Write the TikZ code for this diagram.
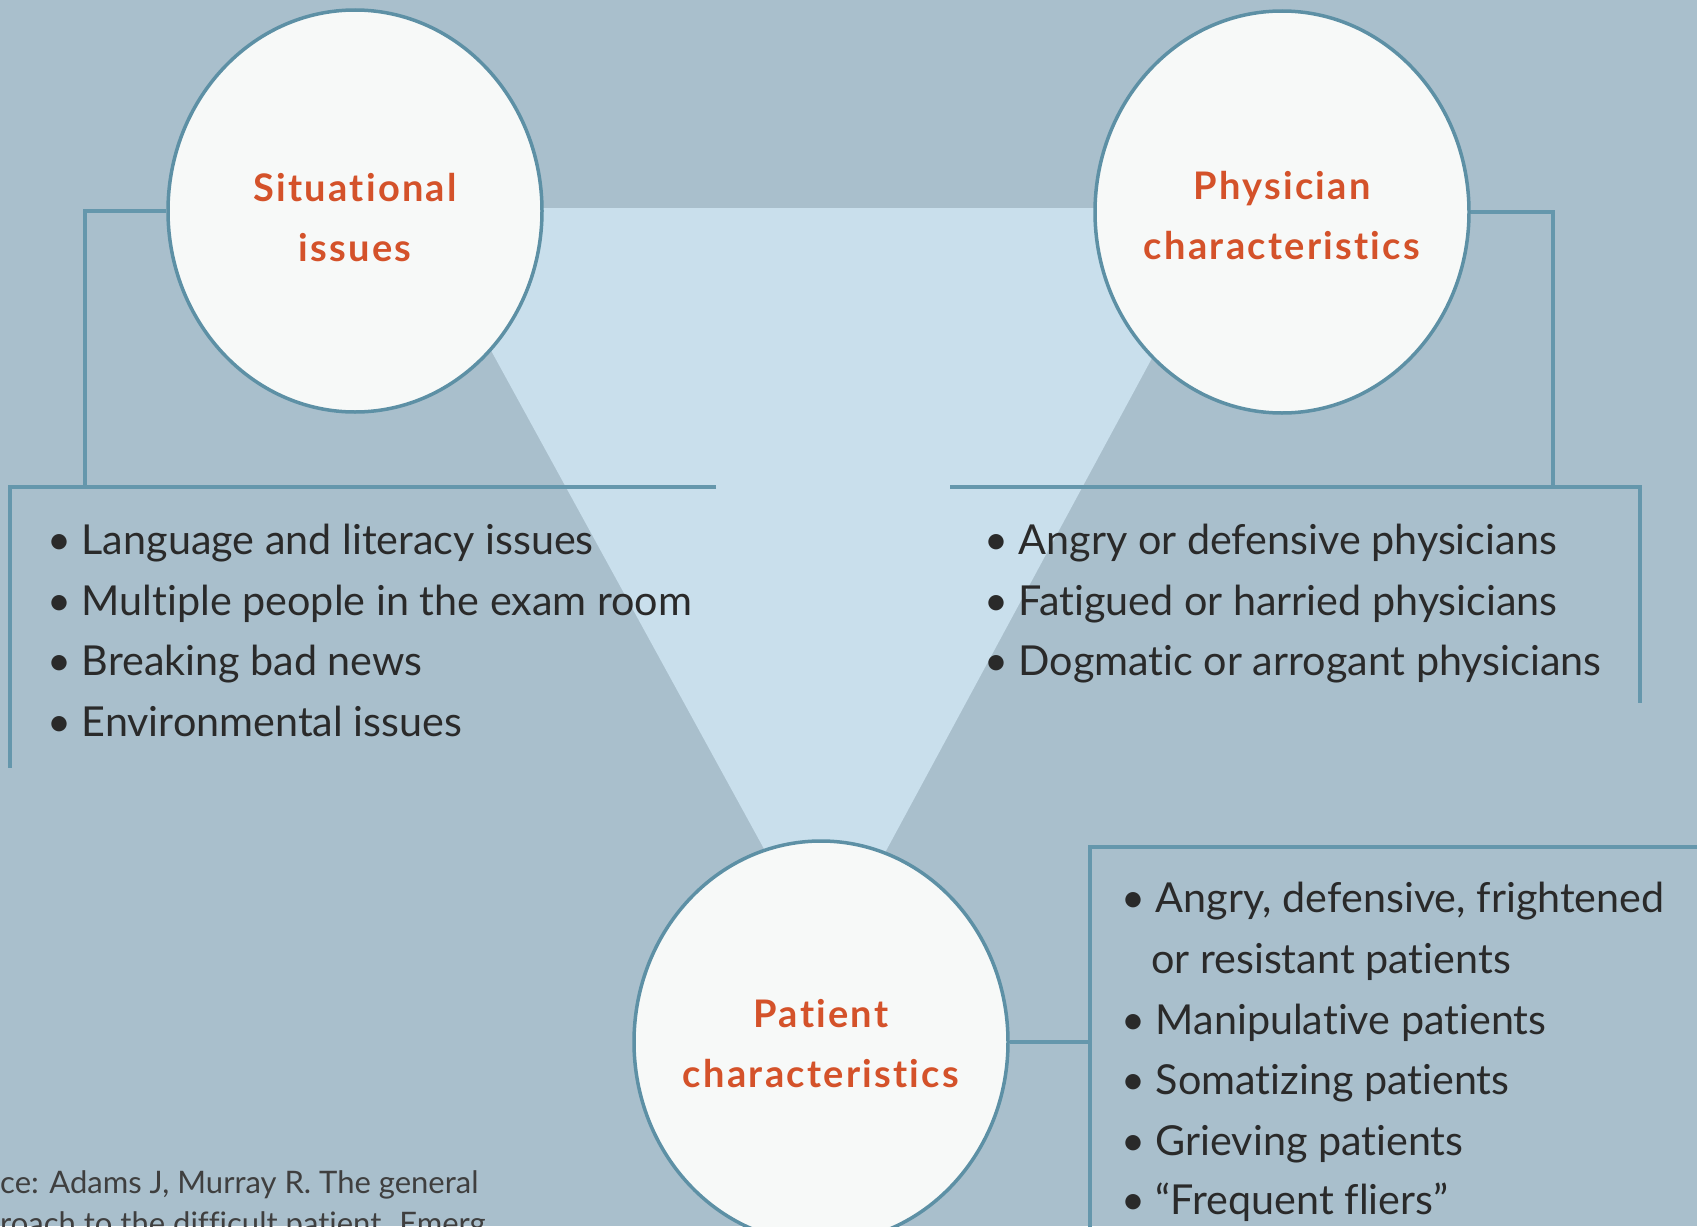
\documentclass[tikz,border=0pt]{standalone}
\usepackage{fontspec}
\setmainfont{Lato}[Ligatures=NoCommon]
\newfontfamily\titlefont{Lato}[LetterSpace=6, Ligatures=NoCommon]
\usetikzlibrary{shapes.geometric}
\definecolor{bg}{HTML}{A9BFCC}
\definecolor{tri}{HTML}{C9DFEC}
\definecolor{circfill}{HTML}{F7F9F8}
\definecolor{brkcol}{HTML}{6597AC}
\definecolor{circline}{HTML}{5D90A5}
\definecolor{titlecol}{HTML}{D4522A}
\definecolor{txt}{HTML}{2A2A2A}
\tikzset{
  circ/.style={ellipse, draw=circline, line width=3.5, fill=circfill,
    minimum width=374, minimum height=402, inner sep=0},
  ttl/.style={text=titlecol, align=center, font=\titlefont\bfseries\fontsize{38}{60}\selectfont},
  brk/.style={draw=brkcol, line width=3.5},
  item/.style={anchor=base west, inner sep=0, text=txt, font=\fontsize{41.3}{48}\selectfont},
  src/.style={anchor=base west, inner sep=0, text=txt!90, font=\fontsize{31}{36}\selectfont}
}
\begin{document}
\begin{tikzpicture}[x=1pt,y=-1pt]
\path[use as bounding box] (0,0) rectangle (1697,1226);
\clip (0,0) rectangle (1697,1226);
\fill[bg] (0,0) rectangle (1697,1226);
% light triangle
\fill[tri] (413,208) -- (1233,208) -- (826,962) -- cycle;

% bracket coordinates
\coordinate (lv) at (85,487);
\coordinate (lh1) at (716,487);
\coordinate (lh0) at (10,487);
\coordinate (lbot) at (10,768);
\coordinate (rv) at (1553,487);
\coordinate (rh0) at (950,487);
\coordinate (rh1) at (1640,487);
\coordinate (rbot) at (1640,703);
\coordinate (bj) at (1090,1042);
\coordinate (btop) at (1090,847);
\coordinate (bbot) at (1090,1230);
\coordinate (bright) at (1700,847);

% circles
\node[circ] (sit) at (355,211) {};
\node[circ] (phy) at (1282,212) {};
\node[circ] (pat) at (821,1042) {};

% brackets
\draw[brk] (sit.west) -| (lv);
\draw[brk] (lh1) -- (lh0) -- (lbot);
\draw[brk] (phy.east) -| (rv);
\draw[brk] (rh0) -- (rh1) -- (rbot);
\draw[brk] (pat.east) -- (bj);
\draw[brk] (bbot) -- (btop) -- (bright);

% titles
\node[ttl] (sitt) at (355,218) {Situational\\issues};
\node[ttl] (phyt) at (1282,216) {Physician\\characteristics};
\node[ttl] (patt) at (821,1044) {Patient\\characteristics};

% left list
\node[item] (l1) at (47,554) {• Language and literacy issues};
\node[item] (l2) at (47,615) {• Multiple people in the exam room};
\node[item] (l3) at (47,675) {• Breaking bad news};
\node[item] (l4) at (47,736) {• Environmental issues};

% right list
\node[item] (r1) at (984,554) {• Angry or defensive physicians};
\node[item] (r2) at (984,615) {• Fatigued or harried physicians};
\node[item] (r3) at (984,675) {• Dogmatic or arrogant physicians};

% bottom-right list
\node[item] (b1) at (1121,912) {• Angry, defensive, frightened};
\node[item] (b1b) at (1151,973) {or resistant patients};
\node[item] (b2) at (1121,1034) {• Manipulative patients};
\node[item] (b3) at (1121,1094) {• Somatizing patients};
\node[item] (b4) at (1121,1155) {• Grieving patients};
\node[item] (b5) at (1121,1214) {• “Frequent fliers”};

% source
\node[src] (s1) at (0,1193) {ce: Adams J, Murray R. The general};
\node[src] (s2) at (0,1234) {roach to the difficult patient. Emerg};
\end{tikzpicture}
\end{document}
